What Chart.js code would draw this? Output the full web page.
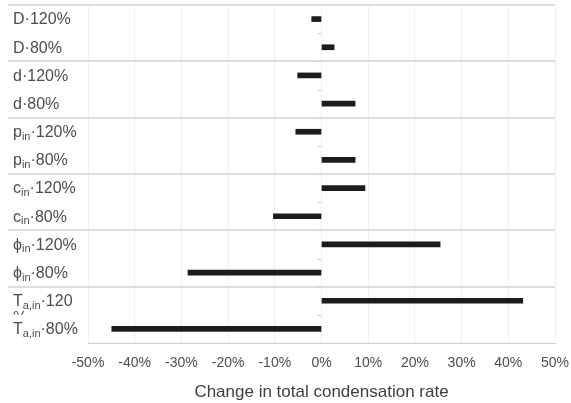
<!DOCTYPE html>
<html>
<head>
<meta charset="utf-8">
<script src="https://cdn.jsdelivr.net/npm/chart.js@4/dist/chart.umd.min.js"></script>
<style>
    html, body { margin: 0; padding: 0; background: #fff; }
    #wrap { width: 571px; height: 403px; }
</style>
</head>
<body>
<div id="wrap"><canvas id="sensChart" width="571" height="403"></canvas></div>
<script>
    'use strict';

    // rows, top to bottom ("_" starts a subscript that runs up to the "·")
    var categories = ['D·120%', 'D·80%', 'd·120%', 'd·80%', 'p_in·120%', 'p_in·80%',
        'c_in·120%', 'c_in·80%', 'ϕ_in·120%', 'ϕ_in·80%', 'T_a,in·120%', 'T_a,in·80%'];
    // change in total condensation rate, %
    var changes = [-2.1, 2.7, -5.1, 7.2, -5.5, 7.2, 9.3, -10.3, 25.4, -28.6, 43.1, -44.9];
    var xTickValues = [-50, -40, -30, -20, -10, 0, 10, 20, 30, 40, 50];
    var axisTitle = 'Change in total condensation rate';

    var textGrey = '#4d4d4d';
    var lineGrey = '#d3d3d3';
    var fontFam = '"Liberation Sans", Arial, sans-serif';

    Chart.defaults.font.family = fontFam;

    function splitLabel(lab) {
        var u = lab.indexOf('_');
        if (u < 0) return { main: lab, sub: '', rest: '' };
        var d = lab.indexOf('·');
        return { main: lab.slice(0, u), sub: lab.slice(u + 1, d), rest: lab.slice(d) };
    }

    function drawLabel(ctx, lab, x, y, maxW, clipBottom) {
        var p = splitLabel(lab);
        ctx.font = '16px ' + fontFam;
        var wMain = ctx.measureText(p.main).width;
        var wRest = ctx.measureText(p.rest).width;
        ctx.font = '11px ' + fontFam;
        var wSub = ctx.measureText(p.sub).width;
        var rest = p.rest, tail = '';
        if (wMain + wSub + wRest > maxW) {
            tail = rest.slice(-1);
            rest = rest.slice(0, -1);
        }
        ctx.textBaseline = 'middle';
        ctx.textAlign = 'left';
        ctx.font = '16px ' + fontFam;
        ctx.fillText(p.main, x, y);
        ctx.font = '11px ' + fontFam;
        ctx.fillText(p.sub, x + wMain, y + 4);
        ctx.font = '16px ' + fontFam;
        ctx.fillText(rest, x + wMain + wSub, y);
        if (tail) {
            // wrapped remainder, cut off by the next row like in the original
            ctx.save();
            ctx.beginPath();
            ctx.rect(0, y + 8, x + 60, clipBottom - (y + 8));
            ctx.clip();
            ctx.fillText(tail, x, y + 17);
            ctx.restore();
        }
    }

    var rowDecor = {
        id: 'rowDecor',
        beforeDatasetsDraw: function (chart) {
            var ctx = chart.ctx, ys = chart.scales.y, xs = chart.scales.x;
            var area = chart.chartArea;
            var x0 = xs.getPixelForValue(0);
            ctx.save();
            // group separators
            ctx.strokeStyle = lineGrey;
            ctx.lineWidth = 1.5;
            ctx.beginPath();
            ctx.moveTo(8, area.top);
            ctx.lineTo(area.right, area.top);
            for (var i = 1; i < categories.length - 1; i += 2) {
                var yy = Math.round((ys.getPixelForValue(i) + ys.getPixelForValue(i + 1)) / 2);
                ctx.moveTo(8, yy);
                ctx.lineTo(area.right, yy);
            }
            ctx.stroke();
            // little ticks on the zero axis
            ctx.strokeStyle = '#cfcfcf';
            ctx.lineWidth = 1;
            ctx.beginPath();
            for (var j = 0; j < categories.length; j++) {
                var ty = Math.round((ys.getPixelForValue(j) + ys.getPixelForValue(j + 1)) / 2) + 0.5;
                ctx.moveTo(x0 - 4, ty);
                ctx.lineTo(x0, ty);
            }
            ctx.stroke();
            ctx.restore();
        },
        afterDraw: function (chart) {
            var ctx = chart.ctx, ys = chart.scales.y;
            ctx.save();
            ctx.fillStyle = textGrey;
            categories.forEach(function (lab, i) {
                var py = ys.getPixelForValue(i);
                drawLabel(ctx, lab, 13, py + 1, 70, py + 14);
            });
            ctx.restore();
        }
    };

    var sensChart = new Chart(document.getElementById('sensChart'), {
        type: 'bar',
        data: {
            labels: categories,
            datasets: [{
                data: changes,
                backgroundColor: '#1c1c1c',
                borderWidth: 0,
                barThickness: 5
            }]
        },
        options: {
            indexAxis: 'y',
            responsive: false,
            animation: false,
            devicePixelRatio: 1,
            layout: { padding: { left: 88, right: 16, top: 5, bottom: 0 } },
            plugins: {
                legend: { display: false },
                tooltip: { enabled: false }
            },
            scales: {
                x: {
                    min: -50,
                    max: 50,
                    afterBuildTicks: function (scale) {
                        scale.ticks = xTickValues.map(function (v) { return { value: v }; });
                    },
                    afterFit: function (scale) {
                        scale.height = 60;
                        scale.paddingLeft = 0;
                        scale.paddingRight = 0;
                    },
                    ticks: {
                        color: textGrey,
                        font: { size: 14 },
                        padding: 12,
                        maxRotation: 0,
                        callback: function (v) { return v + '%'; }
                    },
                    grid: { color: '#f0f0f0', drawTicks: false },
                    border: { color: '#cfcfcf' },
                    title: {
                        display: true,
                        text: axisTitle,
                        color: '#404040',
                        font: { size: 17 },
                        padding: { top: 4, bottom: 0 }
                    }
                },
                y: {
                    display: false
                }
            }
        },
        plugins: [rowDecor]
    });
</script>
</body>
</html>
